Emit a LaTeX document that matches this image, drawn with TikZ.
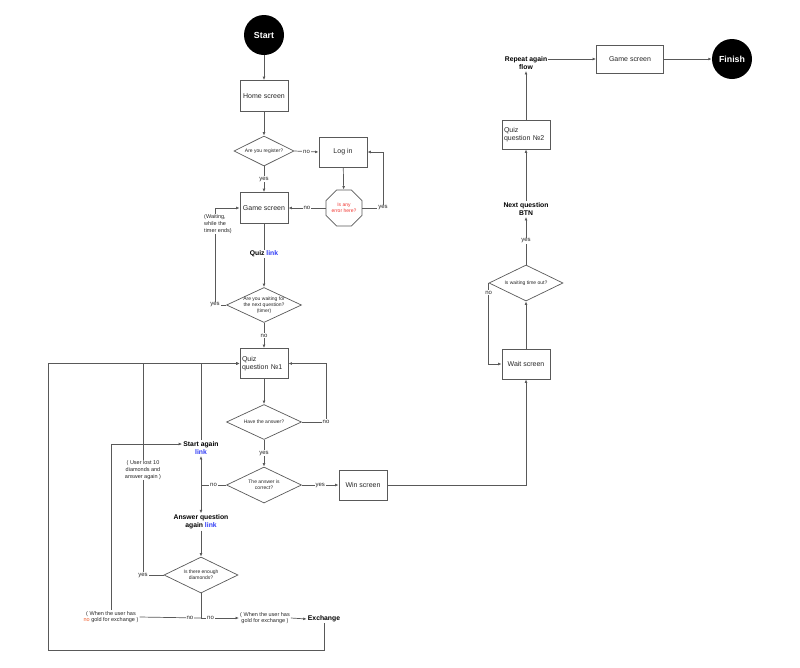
\documentclass[tikz,border=0pt]{standalone}
\usepackage{fontspec}
\setmainfont{Liberation Sans}
\usetikzlibrary{arrows.meta,shapes.geometric,calc}
\definecolor{linkblue}{HTML}{2F3BF5}
\definecolor{noorange}{HTML}{F05A28}
\definecolor{errred}{HTML}{F0332E}
\begin{document}
\begin{tikzpicture}[x=1pt,y=1pt,
 line/.style={draw=black!65, line width=0.7pt},
 arr/.style={line, -{Latex[length=3.5pt,width=2.8pt]}},
 box/.style={draw=black!65, line width=0.7pt, rectangle, minimum width=48pt, minimum height=31pt, inner sep=1pt, font=\fontsize{7}{8.4}\selectfont, text=black!85},
 qbox/.style={box, align=left, text width=44pt},
 dia/.style={draw=black!65, line width=0.7pt, diamond, inner sep=0pt, minimum width=75pt, minimum height=35pt},
 dtext/.style={font=\fontsize{5}{5.8}\selectfont, align=center, text=black!85},
 term/.style={circle, fill=black, minimum size=40pt, inner sep=0pt, text=white, font=\bfseries\fontsize{8.8}{10}\selectfont},
 lbl/.style={fill=white, inner sep=1pt, font=\fontsize{6}{7}\selectfont, text=black!85},
 bl/.style={align=center, font=\bfseries\fontsize{6.8}{8.4}\selectfont, inner sep=1pt},
 note/.style={align=center, font=\fontsize{5.5}{6.6}\selectfont, text=black!85, inner sep=1pt},
]
\useasboundingbox (0,0) rectangle (800,-667);
% left flow nodes
\node[term] (start) at (264,-35) {Start};
\node[box] (home) at (264,-96) {Home screen};
\node[dia, minimum width=60pt, minimum height=30pt] (reg) at (264,-151) {};
\node[dtext] at (reg) {Are you register?};
\node[box, minimum height=30pt] (login) at (343,-152) {Log in};
\node[draw=black!65, line width=0.7pt, regular polygon, regular polygon sides=8, minimum size=39pt, inner sep=0pt] (err) at (344,-208) {};
\node[dtext, text=errred] at (err) {Is any\\error here?};
\node[box] (game) at (264,-208) {Game screen};
\node[bl] (quiz) at (264,-254) {Quiz \textcolor{linkblue}{link}};
\node[dia] (wait) at (264,-305) {};
\node[dtext] at (wait) {Are you waiting for\\the next question?\\(timer)};
\node[qbox, minimum height=30pt] (q1) at (264,-363.5) {Quiz\\question №1};
\node[dia] (have) at (264,-422) {};
\node[dtext] at (have) {Have the answer?};
\node[dia, minimum height=36pt] (corr) at (264,-485) {};
\node[dtext] at (corr) {The answer is\\correct?};
\node[box, minimum height=30pt] (win) at (363,-485) {Win screen};
\node[bl] (again) at (201,-448) {Start again\\\textcolor{linkblue}{link}};
\node[bl] (ansag) at (201,-522) {Answer question\\again \textcolor{linkblue}{link}};
\node[dia, minimum width=74pt, minimum height=36pt] (enough) at (201,-575) {};
\node[dtext] at (enough) {Is there enough\\diamonds?};
\node[note] (nogold) at (111,-617) {( When the user has\\\textcolor{noorange}{no} gold for exchange )};
\node[note] (gold) at (265,-618) {( When the user has\\gold for exchange )};
\node[bl] (exch) at (324,-619) {Exchange};
% right flow nodes
\node[box, minimum height=30pt] (wscr) at (526,-364) {Wait screen};
\node[dia, minimum width=74pt, minimum height=36pt] (tout) at (526,-283) {};
\node[dtext] at (tout) {Is waiting time out?};
\node[bl] (nextq) at (526,-209) {Next question\\BTN};
\node[qbox, minimum height=29pt] (q2) at (526,-134.5) {Quiz\\question №2};
\node[bl] (repeat) at (526,-63) {Repeat again\\flow};
\node[box, minimum width=67pt, minimum height=28pt] (gs2) at (630,-59) {Game screen};
\node[term] (finish) at (732,-59) {Finish};
% connectors
\draw[arr] (start) -- (home);
\draw[arr] (home) -- (reg.north);
\draw[arr] (reg.east) -- node[lbl]{no} (login.west);
\draw[arr] (reg.south) -- node[lbl]{yes} (game.north);
\draw[arr] (login) -- (err);
\draw[arr] (err.east) -- (383,-208) node[lbl]{yes} |- (login.east);
\draw[arr] (err.west) -- node[lbl]{no} (game.east);
\draw[line] (game.south) -- (quiz.north);
\draw[arr] (quiz.south) -- (wait.north);
\draw[arr] (wait.west) -- (215,-305) node[lbl]{yes} |- (game.west);
\draw[arr] (wait.south) -- node[lbl]{no} (q1.north);
\draw[arr] (q1.south) -- (have.north);
\draw[arr] (have.east) -- (326,-422) node[lbl]{no} |- (q1.east);
\draw[arr] (have.south) -- node[lbl]{yes} (corr.north);
\draw[arr] (corr.east) -- node[lbl]{yes} (win.west);
\draw[line] (corr.west) -- node[lbl]{no} (201,-485) coordinate (jn);
\draw[arr] (jn) -- (again.south);
\draw[arr] (jn) -- (ansag.north);
\draw[arr] (again.north) |- (q1.west);
\draw[arr] (ansag.south) -- (enough.north);
\draw[arr] (enough.west) -- (143,-575) node[lbl]{yes} |- (q1.west);
\draw[line] (enough.south) -- (201,-618) coordinate (j2);
\draw[line] (j2) -- node[lbl,pos=0.18]{no} (nogold.east);
\draw[arr] (nogold.north) |- ($(again.west)+(0,4)$);
\draw[arr] (j2) -- node[lbl,pos=0.25]{no} (gold.west);
\draw[arr] (gold.east) -- (exch.west);
\draw[arr] (exch.south) |- (48,-650) |- (q1.west);
\draw[arr] (win.east) -| (wscr.south);
\draw[arr] (wscr.north) -- (tout.south);
\draw[arr] (tout.west) |- node[lbl,pos=0.06]{no} (wscr.west);
\draw[arr] (tout.north) -- node[lbl,pos=0.5]{yes} (nextq.south);
\draw[arr] (nextq.north) -- (q2.south);
\draw[arr] (q2.north) -- (repeat.south);
\draw[arr] (repeat.east |- gs2.west) -- (gs2.west);
\draw[arr] (gs2.east) -- (finish.west);
% notes on lines
\node[note, align=left, fill=white] (waittxt) at (218,-224) {(Waiting,\\while the\\timer ends)};
\node[note, fill=white] (lost) at (143,-470) {( User lost 10\\diamonds and\\answer again )};
\end{tikzpicture}
\end{document}
